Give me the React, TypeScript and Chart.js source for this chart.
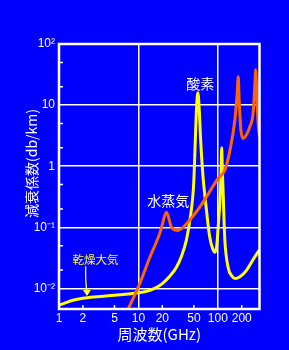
import React, { useEffect, useRef } from "react";
import { Chart, registerables } from "chart.js";

Chart.register(...registerables);

// Oxygen / dry-air attenuation (yellow)
const oxygenFreq = [1, 1.2, 1.5, 2, 3, 5, 8, 12, 16, 20, 25, 30, 35, 40, 44, 48, 50, 52, 54, 56, 58, 61, 65, 72, 79, 86, 92, 97, 101, 106, 110, 112, 114, 117, 122, 135, 150, 165, 190, 230, 280, 335];
const oxygenAtten = [0.0053, 0.0058, 0.0064, 0.0069, 0.0073, 0.0077, 0.0082, 0.0088, 0.01, 0.012, 0.016, 0.022, 0.034, 0.06, 0.12, 0.28, 0.6, 2.5, 9, 16, 10, 2.5, 0.7, 0.19, 0.07, 0.045, 0.039, 0.05, 0.1, 0.25, 0.8, 2.0, 0.9, 0.35, 0.07, 0.022, 0.016, 0.0145, 0.0155, 0.0197, 0.03, 0.043];

// Water vapour attenuation (orange)
const vaporFreq = [7.2, 10.4, 13.9, 18.6, 19.6, 22.5, 26.2, 31.5, 44, 59.5, 101, 123, 142, 164, 175, 181, 186, 195, 208, 230, 253, 278, 292, 300, 312, 322, 335];
const vaporAtten = [0.0042, 0.012, 0.032, 0.08, 0.1, 0.176, 0.1, 0.089, 0.13, 0.215, 0.63, 0.87, 1.8, 5.7, 15, 29, 12, 4, 2.85, 3.3, 4.4, 7.3, 20, 38, 12, 5, 3];

const xTickValues = [1, 2, 5, 10, 20, 50, 100, 200];
const xTickLabels = ["1", "2", "5", "10", "20", "50", "100", "200"];
const yTickValues = [0.01, 0.1, 1, 10, 100];
const yTickLabels = ["10\u207B\u00B2", "10\u207B\u00B9", "1", "10", "10\u00B2"];
const xMajor = [1, 10, 100];
const xMinorTicks = [2, 5, 20, 50, 200];
const yMinorTicks = [0.02, 0.05, 0.2, 0.5, 2, 5, 20, 50];

const xTitle = "周波数(GHz)";
const yTitle = "減衰係数(db/km)";
const labelOxygen = "酸素";
const labelVapor = "水蒸気";
const labelDry = "乾燥大気";

const BG = "#0000ff";
const YELLOW = "#ffff00";
const ORANGE = "#ff6400";
const CJK = '"Noto Sans CJK JP", "Noto Sans", sans-serif';
const LATIN = '"Liberation Sans", Arial, sans-serif';

const overlay = {
  id: "overlay",
  beforeDraw(chart: any) {
    const ctx = chart.ctx;
    ctx.save();
    ctx.fillStyle = BG;
    ctx.fillRect(0, 0, chart.width, chart.height);
    ctx.restore();
  },
  afterDatasetsDraw(chart: any) {
    const ctx = chart.ctx;
    const { left, right, top, bottom } = chart.chartArea;
    const xs = chart.scales.x;
    const ys = chart.scales.y;
    ctx.save();
    // frame
    ctx.strokeStyle = "#ffffff";
    ctx.lineWidth = 2.5;
    ctx.strokeRect(left, top, right - left, bottom - top);
    // minor ticks
    ctx.lineWidth = 1.5;
    ctx.beginPath();
    xMinorTicks.forEach((v) => {
      const px = xs.getPixelForValue(v);
      ctx.moveTo(px, bottom);
      ctx.lineTo(px, bottom - 4);
    });
    yMinorTicks.forEach((v) => {
      const py = ys.getPixelForValue(v);
      ctx.moveTo(left, py);
      ctx.lineTo(left + 4, py);
    });
    ctx.stroke();

    // annotations
    ctx.textAlign = "center";
    ctx.textBaseline = "middle";
    ctx.fillStyle = "#ffffff";
    ctx.font = `14px ${CJK}`;
    ctx.fillText(labelOxygen, xs.getPixelForValue(60), ys.getPixelForValue(22));
    ctx.fillText(labelVapor, xs.getPixelForValue(23.7), ys.getPixelForValue(0.27));
    ctx.fillStyle = "#ffff33";
    ctx.font = `11.5px ${CJK}`;
    ctx.fillText(labelDry, xs.getPixelForValue(2.88), ys.getPixelForValue(0.03));

    // arrow
    const ax0 = xs.getPixelForValue(2.17);
    const ay0 = ys.getPixelForValue(0.023);
    const ax1 = xs.getPixelForValue(2.25);
    const ay1 = ys.getPixelForValue(0.0075);
    ctx.strokeStyle = "#ffff33";
    ctx.lineWidth = 1.3;
    ctx.beginPath();
    ctx.moveTo(ax0, ay0);
    ctx.quadraticCurveTo(ax0 - 0.5, (ay0 + ay1) / 2, ax1, ay1 - 4);
    ctx.stroke();
    ctx.fillStyle = "#ffff33";
    ctx.beginPath();
    ctx.moveTo(ax1, ay1);
    ctx.lineTo(ax1 - 4, ay1 - 6);
    ctx.lineTo(ax1 + 4, ay1 - 6);
    ctx.closePath();
    ctx.fill();

    // y-axis title
    ctx.fillStyle = "#ffffff";
    ctx.font = `14px ${CJK}`;
    ctx.translate(31.5, 163.5);
    ctx.rotate(-Math.PI / 2);
    ctx.fillText(yTitle, 0, 0);
    ctx.restore();
  },
};

export default function App() {
  const canvasRef = useRef<HTMLCanvasElement | null>(null);

  useEffect(() => {
    document.body.style.margin = "0";
    document.body.style.background = BG;
    const canvas = canvasRef.current;
    if (!canvas) return;
    const chart = new Chart(canvas, {
      type: "line",
      data: {
        datasets: [
          {
            label: "水蒸気",
            data: vaporFreq.map((f, i) => ({ x: f, y: vaporAtten[i] })),
            borderColor: ORANGE,
            borderWidth: 3,
            pointRadius: 0,
            fill: false,
            cubicInterpolationMode: "monotone",
          },
          {
            label: "酸素",
            data: oxygenFreq.map((f, i) => ({ x: f, y: oxygenAtten[i] })),
            borderColor: YELLOW,
            borderWidth: 3,
            pointRadius: 0,
            fill: false,
            cubicInterpolationMode: "monotone",
          },
        ],
      },
      plugins: [overlay],
      options: {
        animation: false,
        responsive: false,
        devicePixelRatio: 1,
        layout: { padding: { left: 0, top: 44, right: 29.5, bottom: 0 } },
        plugins: { legend: { display: false }, tooltip: { enabled: false } },
        scales: {
          x: {
            type: "logarithmic",
            min: 1,
            max: 335,
            bounds: "data",
            afterBuildTicks: (axis: any) => {
              axis.ticks = xTickValues.map((v) => ({ value: v }));
            },
            afterFit: (axis: any) => {
              axis.height = 41;
            },
            ticks: {
              autoSkip: false,
              maxRotation: 0,
              color: "#ffffff",
              padding: 2,
              font: { family: LATIN, size: 12 },
              callback: (v: any) => {
                const i = xTickValues.indexOf(Number(v));
                return i >= 0 ? xTickLabels[i] : "";
              },
            },
            grid: {
              drawTicks: false,
              lineWidth: 1.5,
              color: (c: any) => (c.tick && xMajor.includes(c.tick.value) ? "#ffffff" : "rgba(0,0,0,0)"),
            },
            border: { display: false },
            title: {
              display: true,
              text: xTitle,
              color: "#ffffff",
              font: { family: CJK, size: 15 },
              padding: { top: 0, bottom: 7 },
            },
          },
          y: {
            type: "logarithmic",
            min: 0.0046,
            max: 100,
            bounds: "data",
            afterBuildTicks: (axis: any) => {
              axis.ticks = yTickValues.map((v) => ({ value: v }));
            },
            afterFit: (axis: any) => {
              axis.width = 59;
            },
            ticks: {
              autoSkip: false,
              color: "#ffffff",
              padding: 4,
              font: { family: LATIN, size: 12 },
              callback: (v: any) => {
                const i = yTickValues.findIndex((t) => Math.abs(t - Number(v)) / t < 1e-6);
                return i >= 0 ? yTickLabels[i] : "";
              },
            },
            grid: {
              drawTicks: false,
              lineWidth: 1.5,
              color: "#ffffff",
            },
            border: { display: false },
          },
        },
      },
    } as any);
    return () => chart.destroy();
  }, []);

  return (
    <div style={{ position: "fixed", left: 0, top: 0, width: 289, height: 350, background: BG }}>
      <canvas ref={canvasRef} width={289} height={350} style={{ display: "block" }} />
    </div>
  );
}
